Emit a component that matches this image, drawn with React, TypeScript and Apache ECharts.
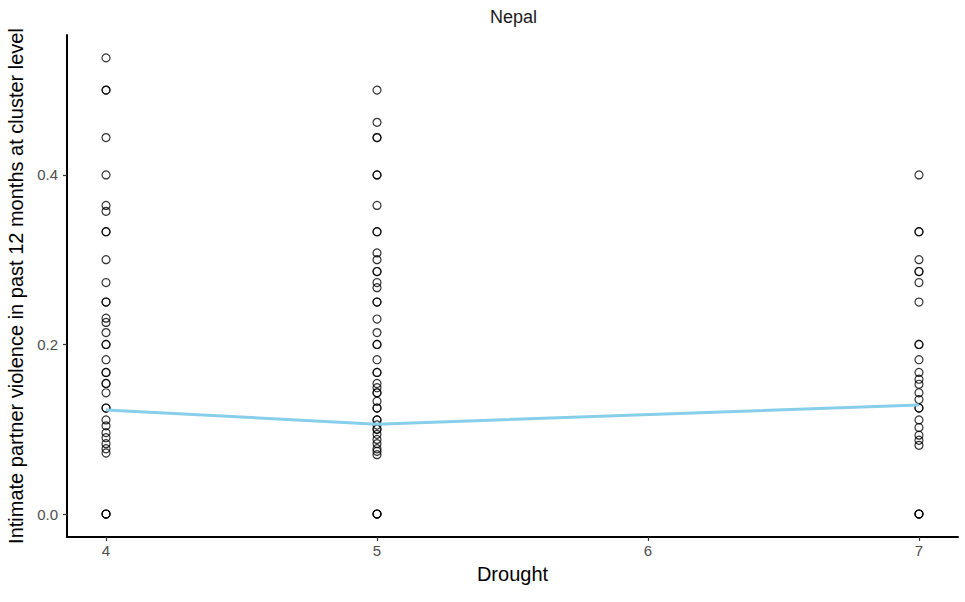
import React, { useEffect, useRef } from "react";
import * as echarts from "echarts";

const title = "Nepal";
const xTitle = "Drought";
const yTitle = "Intimate partner violence in past 12 months at cluster level";
const xTicks = [4, 5, 6, 7];
const yTicks = [0, 0.2, 0.4];

const drought4 = [0.538, 0.5, 0.5, 0.444, 0.4, 0.364, 0.357, 0.333, 0.333, 0.3, 0.273, 0.25, 0.25, 0.231, 0.226, 0.214, 0.2, 0.2, 0.182, 0.167, 0.167, 0.154, 0.154, 0.143, 0.125, 0.125, 0.111, 0.104, 0.096, 0.09, 0.083, 0.077, 0.072, 0, 0, 0];
const drought5 = [0.5, 0.462, 0.444, 0.444, 0.4, 0.4, 0.364, 0.333, 0.333, 0.308, 0.3, 0.286, 0.286, 0.273, 0.267, 0.25, 0.25, 0.23, 0.214, 0.2, 0.2, 0.182, 0.167, 0.167, 0.154, 0.149, 0.143, 0.143, 0.133, 0.125, 0.125, 0.111, 0.111, 0.105, 0.1, 0.1, 0.094, 0.088, 0.083, 0.077, 0.074, 0.07, 0, 0, 0];
const drought7 = [0.4, 0.333, 0.333, 0.3, 0.286, 0.286, 0.273, 0.25, 0.2, 0.2, 0.182, 0.167, 0.159, 0.153, 0.143, 0.135, 0.125, 0.125, 0.111, 0.102, 0.093, 0.087, 0.081, 0, 0, 0];
const meanX = [4, 5, 7];
const meanY = [0.1227, 0.106, 0.1286];

export default function App() {
  const ref = useRef<HTMLDivElement>(null);
  useEffect(() => {
    if (!ref.current) return;
    const chart = echarts.init(ref.current, null, { renderer: "svg" });
    const pts: number[][] = [
      ...drought4.map((v) => [4, v]),
      ...drought5.map((v) => [5, v]),
      ...drought7.map((v) => [7, v]),
    ];
    const font = "Liberation Sans, Arial, sans-serif";
    chart.setOption({
      animation: false,
      backgroundColor: "#ffffff",
      title: {
        text: title,
        left: 485,
        top: 3,
        textStyle: { fontFamily: font, fontSize: 18, fontWeight: "normal", color: "#1a1a1a" },
      },
      grid: { left: 67, right: 7, top: 35, bottom: 65, containLabel: false, outerBoundsMode: "none" },
      xAxis: {
        type: "value",
        min: 3.856,
        max: 7.144,
        name: xTitle,
        nameLocation: "middle",
        nameGap: 27,
        nameTextStyle: { fontFamily: font, fontSize: 20, color: "#000" },
        axisLine: { show: true, onZero: false, lineStyle: { color: "#000", width: 2 } },
        axisTick: { show: true, length: 4, customValues: xTicks, lineStyle: { color: "#333", width: 1.2 } },
        axisLabel: {
          customValues: xTicks,
          formatter: (v: number) => String(v),
          fontFamily: font,
          fontSize: 15,
          color: "#4d4d4d",
          margin: 6,
        },
        splitLine: { show: false },
      },
      yAxis: {
        type: "value",
        min: -0.0271,
        max: 0.565,
        name: yTitle,
        nameLocation: "middle",
        nameGap: 38,
        nameRotate: 90,
        nameTextStyle: { fontFamily: font, fontSize: 20, color: "#000" },
        axisLine: { show: true, onZero: false, lineStyle: { color: "#000", width: 2 } },
        axisTick: { show: true, length: 4, customValues: yTicks, lineStyle: { color: "#333", width: 1.2 } },
        axisLabel: {
          customValues: yTicks,
          formatter: (v: number) => v.toFixed(1),
          fontFamily: font,
          fontSize: 15,
          color: "#4d4d4d",
          margin: 9,
        },
        splitLine: { show: false },
      },
      series: [
        {
          type: "scatter",
          data: pts,
          symbol: "circle",
          symbolSize: 8,
          itemStyle: { color: "rgba(0,0,0,0)", borderColor: "#000", borderWidth: 1.2 },
          z: 2,
        },
        {
          type: "line",
          data: meanX.map((x, i) => [x, meanY[i]]),
          symbol: "none",
          lineStyle: { color: "#87CEEB", width: 3 },
          z: 3,
        },
      ],
    });
    return () => chart.dispose();
  }, []);
  return <div ref={ref} style={{ position: "fixed", left: 0, top: 0, width: 965, height: 602 }} />;
}
